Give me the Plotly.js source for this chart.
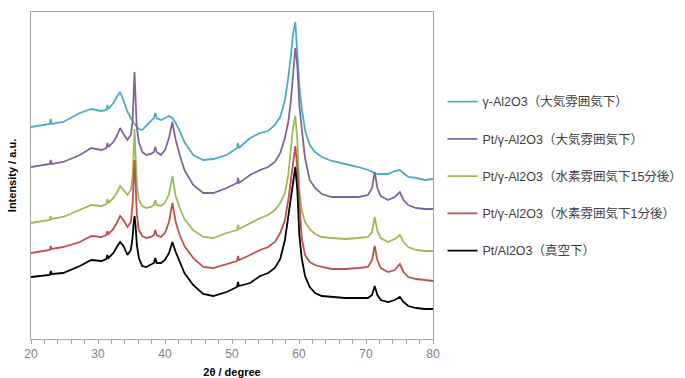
<!DOCTYPE html>
<html>
<head>
<meta charset="utf-8">
<script src="https://cdn.plot.ly/plotly-3.0.1.min.js"></script>
<style>html,body{margin:0;padding:0;background:#fff;}#chart{width:685px;height:378px;}</style>
</head>
<body>
<div id="chart"></div>
<script>
// 2θ (degree) sample positions
var twoTheta = [20.0, 22.8, 22.95, 23.1, 24.8, 27.3, 29.0, 30.5, 31.25, 31.4, 31.55, 32.3, 32.8, 33.3, 33.8, 34.4, 34.9, 35.15, 35.3, 35.45, 35.6, 35.8, 36.1, 36.6, 37.2, 37.9, 38.35, 38.55, 38.75, 39.4, 40.0, 40.6, 41.1, 41.6, 42.2, 42.9, 44.2, 45.7, 47.2, 49.2, 50.75, 50.9, 51.05, 52.7, 54.2, 55.4, 56.4, 57.2, 57.9, 58.4, 58.8, 59.1, 59.45, 59.75, 60.05, 60.4, 60.9, 61.6, 62.4, 63.4, 64.9, 66.9, 68.9, 70.3, 70.9, 71.3, 71.7, 72.2, 73.3, 74.3, 75.05, 75.6, 76.3, 77.5, 78.8, 80.0];

// Intensities (a.u., stacked as in the figure)
var gammaAir = [212, 215, 220, 215, 217, 226, 230, 228, 229, 234, 230, 236, 242, 247, 239, 227, 221, 218, 216, 215, 214, 212, 210, 209, 213, 218, 221, 226, 221, 219, 221, 223, 221, 216, 208, 197, 184, 179, 180, 184, 191, 196, 191, 201, 206, 208, 214, 222, 239, 261, 284, 304, 317, 284, 254, 231, 209, 194, 187, 182, 178, 175, 172, 169, 167, 166, 165, 165, 165, 168, 169, 166, 162, 161, 159, 160];
var ptGammaAir = [172, 175, 179, 175, 177, 184, 191, 189, 191, 196, 192, 197, 203, 211, 205, 199, 204, 217, 241, 267, 241, 211, 197, 187, 184, 185, 187, 192, 187, 184, 189, 201, 217, 199, 184, 169, 154, 146, 146, 151, 156, 161, 156, 164, 169, 172, 177, 186, 201, 217, 239, 265, 291, 274, 234, 211, 181, 159, 151, 145, 142, 142, 142, 144, 151, 167, 151, 143, 139, 142, 147, 139, 134, 131, 130, 130];
var ptGammaH2_15 = [116, 119, 123, 120, 122, 129, 134, 133, 135, 140, 136, 141, 146, 153, 149, 144, 149, 161, 184, 210, 184, 154, 139, 133, 131, 132, 134, 139, 134, 133, 136, 145, 163, 143, 131, 120, 109, 102, 101, 106, 109, 114, 110, 116, 121, 124, 129, 136, 146, 164, 191, 211, 223, 199, 149, 129, 117, 110, 105, 102, 101, 100, 101, 102, 107, 122, 108, 101, 97, 100, 104, 97, 92, 89, 88, 88];
var ptGammaH2_1 = [86, 89, 93, 90, 92, 97, 103, 102, 104, 108, 105, 110, 116, 123, 119, 112, 117, 134, 157, 179, 157, 124, 109, 103, 101, 102, 104, 109, 104, 102, 106, 117, 136, 117, 104, 93, 81, 72, 71, 75, 78, 83, 79, 84, 89, 92, 97, 106, 119, 139, 159, 179, 193, 171, 134, 101, 84, 77, 74, 72, 70, 70, 71, 72, 79, 93, 79, 71, 67, 69, 75, 67, 62, 60, 59, 58];
var ptVacuum = [62, 64, 68, 65, 66, 73, 79, 78, 80, 84, 81, 86, 92, 97, 93, 84, 89, 101, 114, 123, 114, 94, 81, 73, 72, 74, 76, 81, 76, 76, 79, 86, 97, 87, 77, 66, 54, 45, 43, 47, 52, 57, 53, 56, 63, 66, 71, 80, 99, 121, 139, 154, 172, 149, 104, 81, 63, 52, 46, 43, 42, 41, 41, 41, 44, 53, 44, 39, 37, 39, 42, 37, 33, 31, 30, 30];

var seriesNames = ['γ-Al2O3（大気雰囲気下）', 'Pt/γ-Al2O3（大気雰囲気下）', 'Pt/γ-Al2O3（水素雰囲気下15分後）', 'Pt/γ-Al2O3（水素雰囲気下1分後）', 'Pt/Al2O3（真空下）'];
var seriesValues = [gammaAir, ptGammaAir, ptGammaH2_15, ptGammaH2_1, ptVacuum];
var seriesColors = ['#4bacc6', '#8064a2', '#9bbb59', '#c0504d', '#000000'];
var xTicks = [20, 30, 40, 50, 60, 70, 80];

var traces = seriesNames.map(function (name, i) {
  return {
    type: 'scatter', mode: 'lines', name: name,
    x: twoTheta, y: seriesValues[i],
    line: {color: seriesColors[i], width: 1.8},
    legendgroup: 'g' + i
  };
});

var layout = {
  width: 685, height: 378,
  margin: {l: 31, r: 252, t: 12, b: 39},
  paper_bgcolor: '#ffffff', plot_bgcolor: '#ffffff',
  font: {family: 'Liberation Sans, Noto Sans CJK JP, sans-serif', color: '#404040'},
  showlegend: true,
  legend: {
    xref: 'container', yref: 'container',
    x: 0.646, xanchor: 'left', y: 0.770, yanchor: 'top',
    traceorder: 'grouped', tracegroupgap: 18,
    font: {size: 12.5, color: '#404040', family: 'Liberation Sans, Noto Sans CJK JP, sans-serif'},
    bgcolor: 'rgba(0,0,0,0)'
  },
  xaxis: {
    range: [20, 80], tickvals: xTicks, ticktext: xTicks.map(String),
    showline: true, linecolor: '#a6a6a6', linewidth: 1, mirror: true,
    ticks: 'outside', ticklen: 4, tickcolor: '#a6a6a6',
    minor: {dtick: 2, ticks: 'outside', ticklen: 4, tickcolor: '#a6a6a6', showgrid: false},
    showgrid: false, zeroline: false,
    tickfont: {size: 12, color: '#808080'},
    title: {text: '2θ / degree', font: {size: 11, color: '#000000', weight: 'bold'}, standoff: 8}
  },
  yaxis: {
    range: [0, 327], showticklabels: false, ticks: '',
    showline: true, linecolor: '#a6a6a6', linewidth: 1, mirror: true,
    showgrid: false, zeroline: false,
    title: {text: 'Intensity / a.u.', font: {size: 11, color: '#000000', weight: 'bold'}, standoff: 11}
  }
};

Plotly.newPlot('chart', traces, layout, {displayModeBar: false, staticPlot: true});
</script>
</body>
</html>
